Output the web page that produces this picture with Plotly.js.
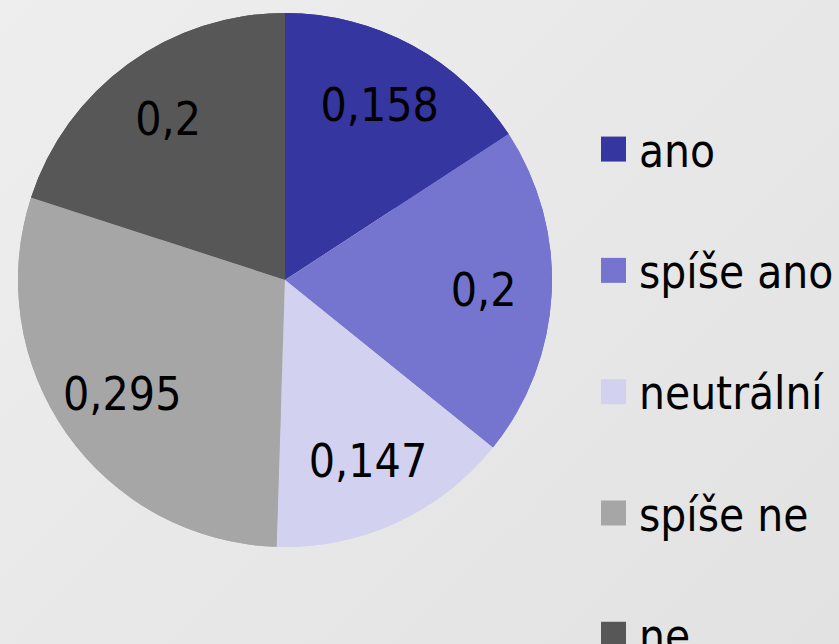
<!DOCTYPE html>
<html>
<head>
<meta charset="utf-8">
<script src="https://cdn.plot.ly/plotly-3.0.1.min.js"></script>
<style>
html,body{margin:0;padding:0;}
body{width:839px;height:644px;overflow:hidden;background:linear-gradient(135deg,#eeeeee 0%,#e8e8e8 50%,#e2e2e2 100%);}
#chart{width:839px;height:644px;}
</style>
</head>
<body>
<div id="chart"></div>
<script>
const categories = ["ano", "spíše ano", "neutrální", "spíše ne", "ne"];
const values = [0.158, 0.2, 0.147, 0.295, 0.2];
const colors = ["#3636a0", "#7575cf", "#d2d2f0", "#a6a6a6", "#575757"];

const FONT = "DejaVu Sans Condensed, DejaVu Sans, sans-serif";
const domain = {x: [18/839, 552/839], y: [1 - 547/644, 1 - 13/644]};

const base = {
  type: "pie",
  labels: categories.map(c => c + "<br> "),
  values: values,
  sort: false,
  direction: "clockwise",
  rotation: 0,
  marker: {colors: colors, line: {width: 0}},
  textinfo: "none",
  showlegend: false,
  domain: domain,
  hoverinfo: "skip"
};

const ring = {
  type: "pie",
  labels: categories.map(c => c + "<br> "),
  values: values,
  sort: false,
  direction: "clockwise",
  rotation: 0,
  hole: 0.49,
  marker: {colors: colors, line: {width: 0}},
  textinfo: "value",
  textposition: "inside",
  insidetextorientation: "horizontal",
  textfont: {family: FONT, size: 46, color: "#000000"},
  domain: domain,
  hoverinfo: "label+value"
};

const layout = {
  width: 839,
  height: 644,
  margin: {l: 0, r: 0, t: 0, b: 0, autoexpand: false},
  paper_bgcolor: "rgba(0,0,0,0)",
  plot_bgcolor: "rgba(0,0,0,0)",
  separators: ", ",
  font: {family: FONT, color: "#000000"},
  showlegend: true,
  legend: {
    x: 599/839, xanchor: "left",
    y: 1 - 113/644, yanchor: "top",
    valign: "top",
    maxheight: 2000,
    font: {family: FONT, size: 45.5, color: "#000000"},
    bgcolor: "rgba(0,0,0,0)",
    itemwidth: 30,
    traceorder: "normal"
  }
};

Plotly.newPlot("chart", [base, ring], layout, {displayModeBar: false, staticPlot: true}).then(gd => {
  gd.querySelectorAll("path.legendpie").forEach(p => {
    p.setAttribute("d", "M7,12.5H-18V-12.5H7Z");
    p.style.strokeWidth = "0";
  });
});
</script>
</body>
</html>
